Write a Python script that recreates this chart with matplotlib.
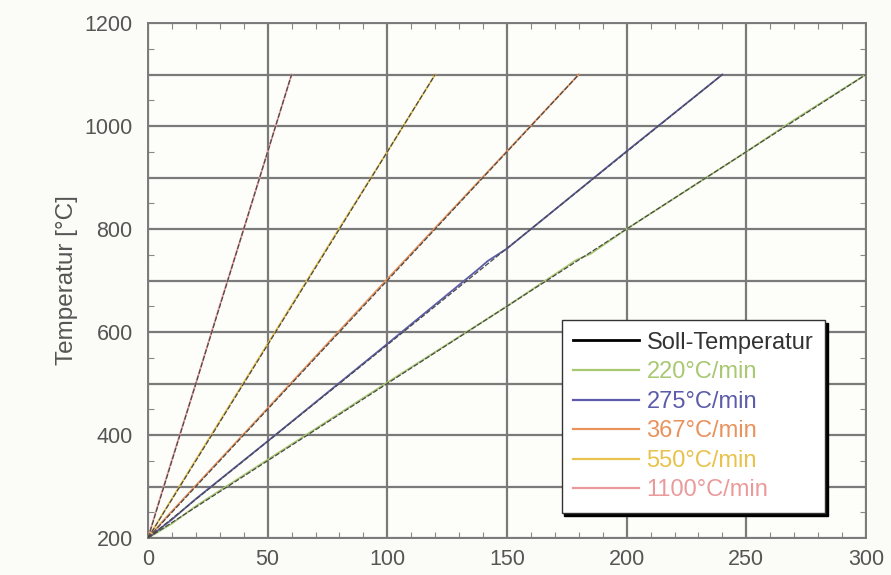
import matplotlib
matplotlib.use("Agg")
import matplotlib.pyplot as plt
from matplotlib.lines import Line2D
from matplotlib.ticker import MultipleLocator, FuncFormatter

# Soll-Temperatur: Start- und Endpunkte je Heizrate
rate_labels = ['220°C/min', '275°C/min', '367°C/min', '550°C/min', '1100°C/min']
rate_colors = ['#a9c872', '#5c5caa', '#e8925c', '#e8c24a', '#ea9a9a']
soll_t = [[0, 300], [0, 240], [0, 180], [0, 120], [0, 60]]
soll_T = [[200, 1100], [200, 1100], [200, 1100], [200, 1100], [200, 1100]]

ist_t = [
    [0, 10, 20, 50, 100, 150, 179, 185, 200, 250, 270, 300],
    [0, 10, 20, 50, 100, 138, 142, 150, 200, 240],
    [0, 8, 20, 50, 100, 150, 180],
    [0, 6, 20, 50, 80, 100, 120],
    [0, 4, 10, 20, 30, 40, 50, 60],
]
ist_T = [
    [200, 228, 262, 352, 502, 650, 740, 752, 800, 950, 1012, 1100],
    [200, 236, 276, 388, 577, 722, 738, 762, 951, 1100],
    [200, 242, 302, 452, 703, 951, 1100],
    [200, 246, 352, 577, 802, 950, 1100],
    [200, 262, 352, 500, 652, 800, 950, 1100],
]

fig = plt.figure(figsize=(8.91, 5.75), dpi=100, facecolor='#fbfbf7')
ax = fig.add_axes([148 / 891, 37 / 575, 718 / 891, 515 / 575])
ax.set_facecolor('#fdfdfa')

for t, T, c in zip(ist_t, ist_T, rate_colors):
    ax.plot(t, T, color=c, lw=1.3, zorder=3)
for t, T in zip(soll_t, soll_T):
    ax.plot(t, T, color='#4a4a4a', lw=0.9, dashes=(4, 1.5), zorder=4)

ax.set_xlim(0, 300)
ax.set_ylim(200, 1200)
ax.xaxis.set_major_locator(MultipleLocator(50))
ax.xaxis.set_minor_locator(MultipleLocator(10))
ax.yaxis.set_major_locator(MultipleLocator(100))
ax.yaxis.set_minor_locator(MultipleLocator(50))
ax.yaxis.set_major_formatter(FuncFormatter(lambda v, p: f'{v:.0f}' if v % 200 == 0 else ''))
ax.grid(True, which='major', color='#7a7a7a', lw=1.6, zorder=1)
ax.tick_params(which='both', direction='in', top=True, right=True, color='#888888')
ax.tick_params(which='major', length=0, labelsize=15.5, labelcolor='#555555')
ax.tick_params(axis='y', which='major', pad=11)
ax.tick_params(axis='x', which='major', pad=8)
ax.tick_params(which='minor', length=4, width=0.8)
for lbl in ax.get_xticklabels() + ax.get_yticklabels():
    lbl.set_fontfamily('Liberation Sans')
for s in ax.spines.values():
    s.set_color('#7a7a7a')
    s.set_linewidth(1.4)

ax.set_ylabel('Temperatur [°C]', fontsize=17.5, color='#555555',
              family='Liberation Sans', labelpad=5)

handles = [Line2D([], [], color='black', lw=2)]
handles += [Line2D([], [], color=c, lw=1.6) for c in rate_colors]
labels = ['Soll-Temperatur'] + rate_labels
leg = ax.legend(handles, labels, loc='lower right', bbox_to_anchor=(0.943, 0.048),
                borderaxespad=0, fancybox=False, framealpha=1, edgecolor='#333333',
                shadow={'color': 'black', 'alpha': 1}, handlelength=2.8,
                handletextpad=0.3, labelspacing=0.32, borderpad=0.5,
                prop={'family': 'Liberation Sans', 'size': 17})
leg.get_frame().set_linewidth(1.0)
for txt, c in zip(leg.get_texts(), ['#333333'] + rate_colors):
    txt.set_color(c)
leg.set_zorder(6)

fig.savefig('out.png', dpi=100, facecolor=fig.get_facecolor())
